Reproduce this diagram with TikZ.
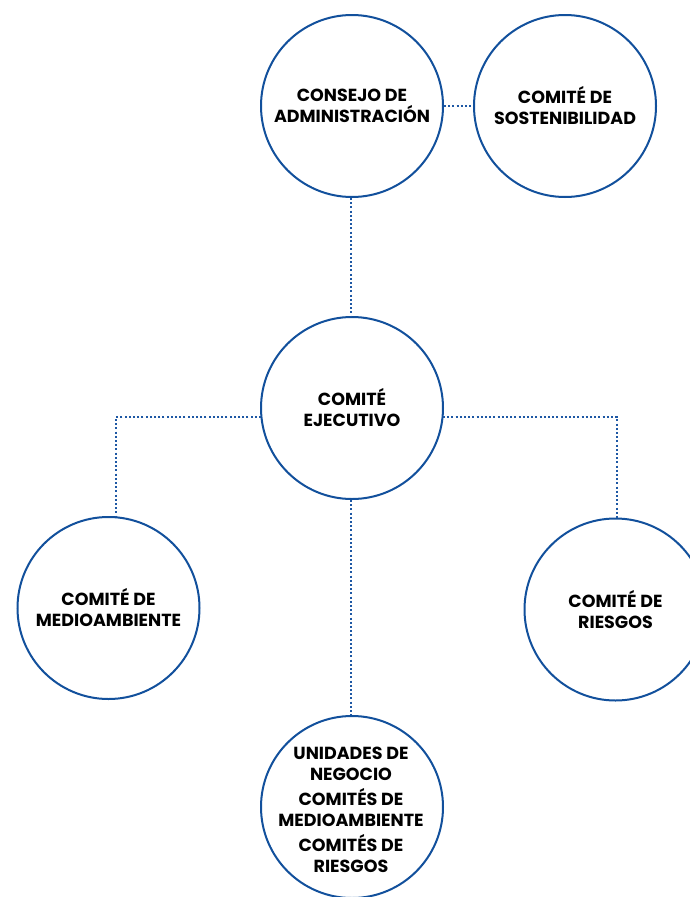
\documentclass[tikz,border=0pt]{standalone}
\usepackage{fontspec}
\setmainfont{Poppins}
\definecolor{cblue}{HTML}{12509C}
\definecolor{dblue}{HTML}{1E58A4}
\tikzset{
  org/.style={circle, draw=cblue, line width=2pt, fill=white, minimum size=182pt, inner sep=0pt,
    align=center, text=black, font=\fontsize{17.5}{21}\selectfont\bfseries},
  orgtext/.style={inner sep=0pt, align=center, text=black, font=\fontsize{17.5}{21}\selectfont\bfseries},
  dotline/.style={draw=dblue, line width=2.2pt, dash pattern=on 2pt off 2.2pt}
}
\begin{document}
\begin{tikzpicture}[x=1pt,y=-1pt]
\fill[white] (0,0) rectangle (690,897);
\useasboundingbox (0,0) rectangle (690,897);
\coordinate (L) at (116,417);
\coordinate (R) at (617,417);
\node[org] (cons) at (352,106) {CONSEJO DE\\ADMINISTRACIÓN};
\node[org] (sost) at (565,106) {COMITÉ DE\\SOSTENIBILIDAD};
\node[org] (ejec) at (352,408) {COMITÉ\\EJECUTIVO};
\node[org] (medio) at (108.5,608) {COMITÉ DE\\MEDIOAMBIENTE};
\node[org] (ries) at (615.5,609.5) {COMITÉ DE\\RIESGOS};
\node[org] (unid) at (352,807) {};
\node[orgtext] (unidtext) at (351,810) {UNIDADES DE\\NEGOCIO\\[4pt]COMITÉS DE\\MEDIOAMBIENTE\\[4pt]COMITÉS DE\\RIESGOS};
\draw[dotline] (cons.east) -- (sost.west);
\draw[dotline] ([xshift=-1pt]cons.south) -- ([xshift=-1pt]ejec.north);
\draw[dotline] ([xshift=1pt]ejec.west |- L) -- (L) -- (L |- medio.north);
\draw[dotline] ([xshift=-1pt]ejec.east |- R) -- (R) -- (R |- ries.north);
\draw[dotline] ([xshift=-1pt]ejec.south) -- ([xshift=-1pt]unid.north);
\end{tikzpicture}
\end{document}
